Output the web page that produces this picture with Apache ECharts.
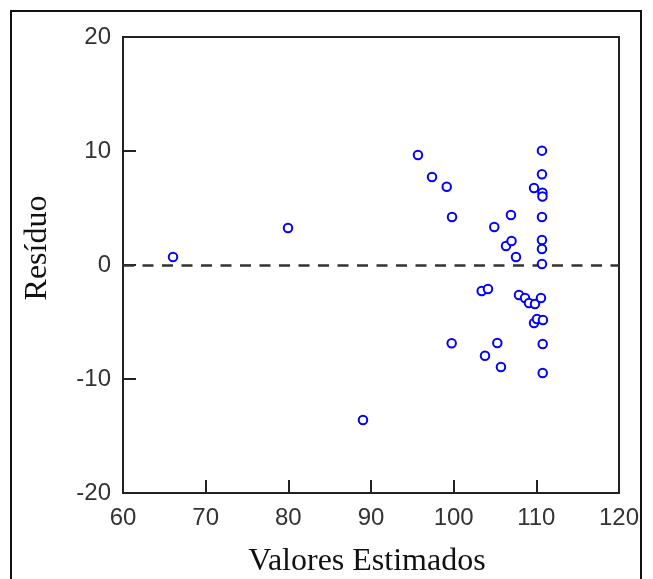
<!DOCTYPE html>
<html>
<head>
<meta charset="utf-8">
<script src="https://cdn.jsdelivr.net/npm/echarts@6/dist/echarts.min.js"></script>
<style>html,body{margin:0;padding:0;background:#fff;}#c{width:653px;height:579px;}</style>
</head>
<body>
<div id="c"></div>
<script>
// Data
var estimated = [66.05, 79.96, 89.03, 95.68, 97.38, 99.16, 99.80, 99.76, 104.91, 106.93, 106.33, 107.0, 107.54,
  110.68, 110.68, 109.72, 110.74, 110.74, 110.68, 110.68, 110.68, 110.68,
  103.39, 104.15, 107.90, 108.63, 109.11, 109.84, 110.56, 109.72, 110.08, 110.80,
  105.28, 103.79, 105.72, 110.77, 110.77];
var residuals = [0.70, 3.25, -13.6, 9.65, 7.72, 6.87, 4.21, -6.87, 3.33, 4.39, 1.67, 2.11, 0.70,
  10.03, 7.96, 6.75, 6.34, 6.01, 4.21, 2.19, 1.40, 0.09,
  -2.28, -2.11, -2.63, -2.89, -3.33, -3.42, -2.89, -5.09, -4.74, -4.82,
  -6.84, -7.96, -8.95, -6.93, -9.47];
var xTicks = [60, 70, 80, 90, 100, 110, 120];
var yTicks = [-20, -10, 0, 10, 20];
var xTitle = 'Valores Estimados';
var yTitle = 'Resíduo';

var pts = estimated.map(function (x, i) { return [x, residuals[i]]; });

var chart = echarts.init(document.getElementById('c'), null, { renderer: 'canvas' });
chart.setOption({
  animation: false,
  backgroundColor: '#fff',
  grid: { left: 123, top: 37, width: 496, height: 456, show: true, borderColor: '#222', borderWidth: 2, backgroundColor: 'transparent' },
  xAxis: {
    type: 'value', min: xTicks[0], max: xTicks[xTicks.length - 1], interval: 10,
    axisLine: { show: true, onZero: false, lineStyle: { color: '#222', width: 2 } },
    axisTick: { show: true, inside: true, length: 13, lineStyle: { color: '#222', width: 2 } },
    axisLabel: { margin: 13, fontFamily: 'Liberation Sans', fontSize: 24, color: '#333' },
    splitLine: { show: false }
  },
  yAxis: {
    type: 'value', min: yTicks[0], max: yTicks[yTicks.length - 1], interval: 10,
    axisLine: { show: true, onZero: false, lineStyle: { color: '#222', width: 2 } },
    axisTick: { show: true, inside: true, length: 13, lineStyle: { color: '#222', width: 2 } },
    axisLabel: { margin: 12, fontFamily: 'Liberation Sans', fontSize: 24, color: '#333' },
    splitLine: { show: false }
  },
  graphic: [
    { type: 'rect', shape: { x: 11, y: 11, width: 630, height: 620 }, style: { fill: 'none', stroke: '#111', lineWidth: 2 }, silent: true },
    { type: 'text', x: 367, y: 562, style: { text: xTitle, font: '32px "Liberation Serif"', fill: '#111', textAlign: 'center', textVerticalAlign: 'middle' } },
    { type: 'text', x: 38, y: 248, rotation: Math.PI / 2, style: { text: yTitle, font: '32px "Liberation Serif"', fill: '#111', textAlign: 'center', textVerticalAlign: 'middle' } }
  ],
  series: [{
    type: 'scatter',
    data: pts,
    symbol: 'emptyCircle',
    symbolSize: 8.5,
    z: 5,
    itemStyle: { color: '#0000ff', borderColor: '#0000ff', borderWidth: 2, opacity: 1 },
    markLine: {
      silent: true, symbol: 'none', label: { show: false },
      lineStyle: { color: '#333', width: 2.5, type: [11, 8.5] },
      data: [{ yAxis: 0 }]
    }
  }]
});
</script>
</body>
</html>
